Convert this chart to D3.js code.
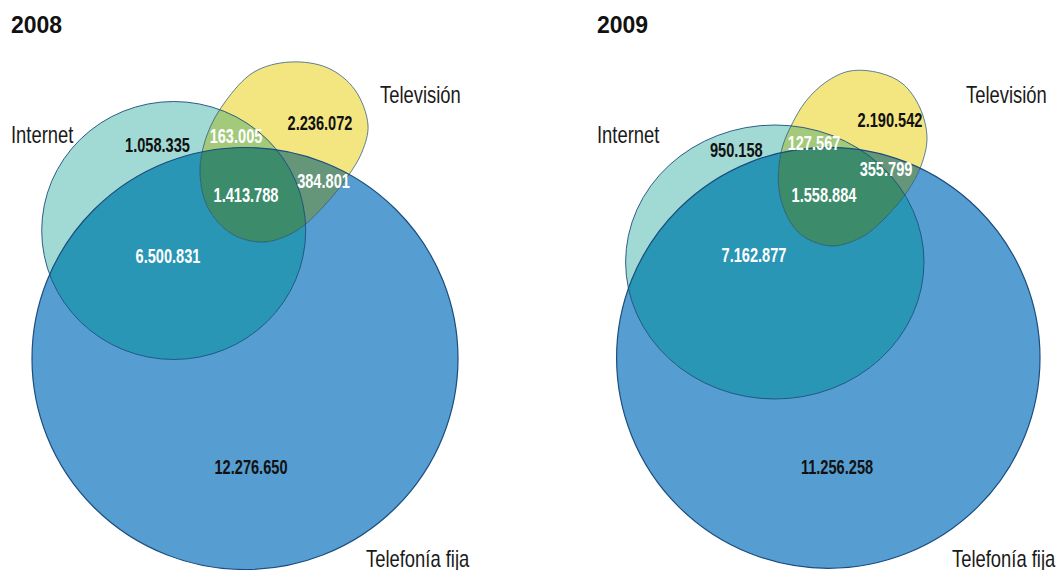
<!DOCTYPE html>
<html>
<head>
<meta charset="utf-8">
<script src="https://cdn.jsdelivr.net/npm/d3@7"></script>
<style>
  html, body { margin: 0; padding: 0; background: #ffffff; }
  svg { display: block; }
</style>
</head>
<body>
<svg id="chart" width="1061" height="570"></svg>
<script>
// ---------------- DATA ----------------
const years = ["2008", "2009"];
const setNames = ["Internet", "Televisión", "Telefonía fija"];
const onlyInternet   = [1058335, 950158];
const onlyTV         = [2236072, 2190542];
const onlyPhone      = [12276650, 11256258];
const internetTV     = [163005, 127567];
const internetPhone  = [6500831, 7162877];
const tvPhone        = [384801, 355799];
const allThree       = [1413788, 1558884];

// ---------------- LAYOUT (geometry) ----------------
const layout = [
  {
    title: [11, 33],
    phone: {cx: 245, cy: 358.5, rx: 213, ry: 211},
    internet: {cx: 173.7, cy: 230.5, rx: 132, ry: 129},
    tv: [[290,62],[328,68],[355,90],[368,125],[362,152],[348,176],[324,206],[296,231],[264,242],[232,234],[208,208],[200,172],[207,135],[225,102],[254,72]],
    setLabels: [[11,142.7],[380,103.3],[366,567]],
    nums: {
      onlyInternet: [157.5,145], onlyTV: [320,122.7], onlyPhone: [251,466.7],
      internetTV: [236,136], internetPhone: [168,255.7], tvPhone: [323.5,180.7], allThree: [246,195]
    }
  },
  {
    title: [597, 33],
    phone: {cx: 828.3, cy: 357.8, rx: 211.7, ry: 210.5},
    internet: {cx: 774.8, cy: 262, rx: 149.2, ry: 137},
    tv: [[850,71],[880,73],[903,84],[920,108],[927,138],[921,166],[907,192],[888,215],[867,234],[848,243],[833,246],[814,242],[798,232],[786,214],[779,190],[779,165],[783,145],[792,124],[806,101],[826,82]],
    setLabels: [[597,142.7],[966,103.3],[952,567]],
    nums: {
      onlyInternet: [736.3,149.3], onlyTV: [890,119.3], onlyPhone: [837,466.7],
      internetTV: [814,142.3], internetPhone: [754,255], tvPhone: [886,168.3], allThree: [824,195]
    }
  }
];

const colors = {
  phone: "#569ed2", internet: "#a1d9d4", internetPhone: "#2896b4",
  tv: "#f3e681", internetTV: "#a3c97a", tvPhone: "#65967a", allThree: "#3c8c6c",
  stroke: "#1b4d7e"
};

const fmt = d3.formatLocale({decimal: ",", thousands: ".", grouping: [3], currency: ["", " €"]}).format(",d");

const svg = d3.select("#chart");
const defs = svg.append("defs");
const tvLine = d3.line().curve(d3.curveCatmullRomClosed.alpha(0.5));
const FONT = "'Liberation Sans', Arial, sans-serif";

years.forEach((yr, i) => {
  const L = layout[i];
  const g = svg.append("g");

  defs.append("clipPath").attr("id", "clipPhone" + i)
    .append("ellipse").attr("cx", L.phone.cx).attr("cy", L.phone.cy).attr("rx", L.phone.rx).attr("ry", L.phone.ry);
  defs.append("clipPath").attr("id", "clipInternet" + i)
    .append("ellipse").attr("cx", L.internet.cx).attr("cy", L.internet.cy).attr("rx", L.internet.rx).attr("ry", L.internet.ry);

  const ell = (sel, e) => sel.append("ellipse").attr("cx", e.cx).attr("cy", e.cy).attr("rx", e.rx).attr("ry", e.ry);
  const tvPath = (sel) => sel.append("path").attr("d", tvLine(L.tv));

  ell(g, L.phone).attr("fill", colors.phone);
  ell(g, L.internet).attr("fill", colors.internet);
  ell(g.append("g").attr("clip-path", `url(#clipPhone${i})`), L.internet).attr("fill", colors.internetPhone);
  tvPath(g).attr("fill", colors.tv);
  tvPath(g.append("g").attr("clip-path", `url(#clipInternet${i})`)).attr("fill", colors.internetTV);
  tvPath(g.append("g").attr("clip-path", `url(#clipPhone${i})`)).attr("fill", colors.tvPhone);
  tvPath(g.append("g").attr("clip-path", `url(#clipPhone${i})`).append("g").attr("clip-path", `url(#clipInternet${i})`)).attr("fill", colors.allThree);

  ell(g, L.phone).attr("fill", "none").attr("stroke", colors.stroke).attr("stroke-width", 1.2);
  ell(g, L.internet).attr("fill", "none").attr("stroke", colors.stroke).attr("stroke-width", 0.9);
  tvPath(g).attr("fill", "none").attr("stroke", colors.stroke).attr("stroke-width", 0.7);

  g.append("text").attr("x", L.title[0]).attr("y", L.title[1])
    .attr("font-family", FONT).attr("font-weight", "bold")
    .attr("font-size", 23).attr("fill", "#111").text(yr);

  setNames.forEach((name, k) => {
    g.append("text")
      .attr("transform", `translate(${L.setLabels[k][0]},${L.setLabels[k][1]}) scale(0.8,1)`)
      .attr("font-family", FONT)
      .attr("font-size", 23).attr("fill", "#1a1a1a").text(name);
  });

  const regions = [
    ["onlyInternet", onlyInternet[i], "#111"],
    ["onlyTV", onlyTV[i], "#111"],
    ["onlyPhone", onlyPhone[i], "#111"],
    ["internetTV", internetTV[i], "#fff"],
    ["internetPhone", internetPhone[i], "#fff"],
    ["tvPhone", tvPhone[i], "#fff"],
    ["allThree", allThree[i], "#fff"]
  ];
  regions.forEach(([key, v, c]) => {
    const p = L.nums[key];
    g.append("text")
      .attr("transform", `translate(${p[0]},${p[1]}) scale(0.73,1)`)
      .attr("text-anchor", "middle").attr("dy", "0.36em")
      .attr("font-family", FONT)
      .attr("font-weight", "bold").attr("font-size", 20).attr("fill", c)
      .text(fmt(v));
  });
});
</script>
</body>
</html>
